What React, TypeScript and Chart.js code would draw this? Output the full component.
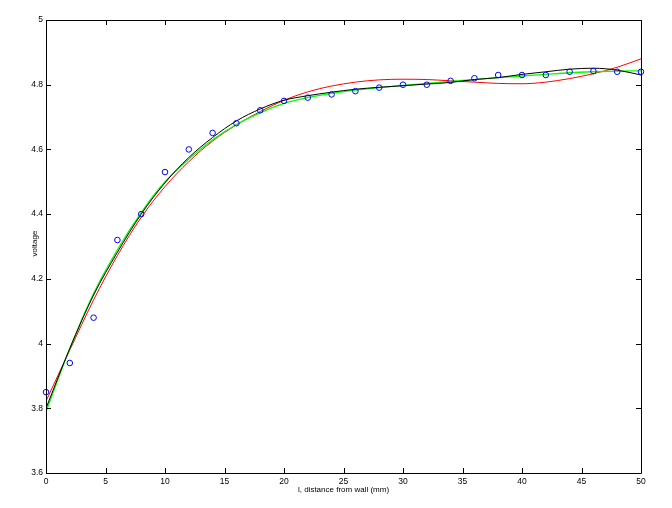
import React, { useEffect, useRef } from "react";
import { Chart, registerables } from "chart.js";

Chart.register(...registerables);

const distances = [0, 2, 4, 6, 8, 10, 12, 14, 16, 18, 20, 22, 24, 26, 28, 30, 32, 34, 36, 38, 40, 42, 44, 46, 48, 50];
const measured = [3.85, 3.94, 4.08, 4.32, 4.40, 4.53, 4.60, 4.651, 4.681, 4.721, 4.75, 4.76, 4.77, 4.78, 4.791, 4.80, 4.80, 4.812, 4.82, 4.83, 4.83, 4.83, 4.84, 4.842, 4.84, 4.84];
const fitBlack = [3.80, 3.985, 4.15, 4.282, 4.40, 4.497, 4.575, 4.637, 4.688, 4.725, 4.752, 4.766, 4.777, 4.786, 4.792, 4.797, 4.802, 4.807, 4.816, 4.822, 4.832, 4.840, 4.848, 4.851, 4.845, 4.83];
const fitGreen = [3.79, 3.985, 4.155, 4.29, 4.405, 4.50, 4.57, 4.63, 4.677, 4.713, 4.742, 4.76, 4.773, 4.783, 4.791, 4.798, 4.804, 4.81, 4.816, 4.822, 4.827, 4.832, 4.837, 4.84, 4.842, 4.843];
const fitRed = [3.822, 3.98, 4.135, 4.272, 4.39, 4.485, 4.562, 4.626, 4.676, 4.717, 4.752, 4.778, 4.796, 4.808, 4.815, 4.817, 4.816, 4.812, 4.808, 4.804, 4.803, 4.808, 4.819, 4.834, 4.854, 4.88];
const xTickValues = [0, 5, 10, 15, 20, 25, 30, 35, 40, 45, 50];
const yTickValues = [3.6, 3.8, 4, 4.2, 4.4, 4.6, 4.8, 5];
const xTitle = "l, distance from wall (mm)";
const yTitle = "voltage";

const FONT = "'Liberation Sans', Arial, Helvetica, sans-serif";

const pts = (ys: number[]) => distances.map((x, i) => ({ x, y: ys[i] }));

const framePlugin = {
  id: "matlabFrame",
  afterDraw(chart: any) {
    const { ctx, chartArea, scales } = chart;
    const { left, right, top, bottom } = chartArea;
    ctx.save();
    ctx.strokeStyle = "#000";
    ctx.lineWidth = 1;
    ctx.beginPath();
    ctx.rect(Math.round(left) + 0.5, Math.round(top) + 0.5, Math.round(right - left), Math.round(bottom - top));
    ctx.stroke();
    const tl = 5;
    ctx.beginPath();
    xTickValues.forEach((v) => {
      const px = Math.round(scales.x.getPixelForValue(v)) + 0.5;
      ctx.moveTo(px, bottom);
      ctx.lineTo(px, bottom - tl);
      ctx.moveTo(px, top);
      ctx.lineTo(px, top + tl);
    });
    yTickValues.forEach((v) => {
      const py = Math.round(scales.y.getPixelForValue(v)) + 0.5;
      ctx.moveTo(left, py);
      ctx.lineTo(left + tl, py);
      ctx.moveTo(right, py);
      ctx.lineTo(right - tl, py);
    });
    ctx.stroke();

    ctx.fillStyle = "#000";
    ctx.font = `8px ${FONT}`;
    ctx.textAlign = "center";
    ctx.textBaseline = "middle";
    ctx.fillText(xTitle, (left + right) / 2, 490);
    ctx.save();
    ctx.translate(left - 11, (top + bottom) / 2 - 3);
    ctx.rotate(-Math.PI / 2);
    ctx.fillText(yTitle, 0, 0);
    ctx.restore();
    ctx.restore();
  },
};

export default function App() {
  const canvasRef = useRef<HTMLCanvasElement | null>(null);

  useEffect(() => {
    document.body.style.margin = "0";
    const canvas = canvasRef.current;
    if (!canvas) return;
    const lineDs = (label: string, data: number[], color: string, width: number) => ({
      type: "line" as const,
      label,
      data: pts(data),
      borderColor: color,
      backgroundColor: color,
      borderWidth: width,
      pointRadius: 0,
      cubicInterpolationMode: "monotone" as const,
      fill: false,
    });
    const chart = new Chart(canvas, {
      type: "line",
      data: {
        datasets: [
          {
            type: "scatter" as any,
            label: "measured",
            data: pts(measured),
            showLine: false,
            pointStyle: "circle",
            pointRadius: 2.8,
            borderColor: "#0000ff",
            backgroundColor: "rgba(0,0,0,0)",
            pointBorderWidth: 1,
            clip: false,
            order: 0,
          } as any,
          { ...lineDs("fit red", fitRed, "#ff0000", 1), order: 3 },
          { ...lineDs("fit green", fitGreen, "#00ff00", 1.3), order: 2 },
          { ...lineDs("fit black", fitBlack, "#000000", 1), order: 1 },
        ],
      },
      options: {
        responsive: false,
        animation: false,
        devicePixelRatio: 1,
        layout: { padding: { top: 20, right: 31, left: 0, bottom: 0 } },
        plugins: { legend: { display: false }, tooltip: { enabled: false }, title: { display: false } },
        scales: {
          x: {
            type: "linear",
            min: 0,
            max: 50,
            grid: { display: false, drawTicks: false },
            border: { display: false },
            afterBuildTicks: (s: any) => {
              s.ticks = xTickValues.map((v) => ({ value: v }));
            },
            afterFit: (s: any) => {
              s.height = 35;
            },
            ticks: {
              padding: 4,
              maxRotation: 0,
              autoSkip: false,
              color: "#000",
              font: { family: FONT, size: 8.5 },
              callback: (v: any) => String(v),
            },
          },
          y: {
            type: "linear",
            min: 3.6,
            max: 5,
            grid: { display: false, drawTicks: false },
            border: { display: false },
            afterBuildTicks: (s: any) => {
              s.ticks = yTickValues.map((v) => ({ value: v }));
            },
            afterFit: (s: any) => {
              s.width = 46;
            },
            ticks: {
              padding: 3,
              autoSkip: false,
              color: "#000",
              font: { family: FONT, size: 8.5 },
              callback: (v: any) => String(Math.round(Number(v) * 10) / 10),
            },
          },
        },
      },
      plugins: [framePlugin],
    });
    return () => chart.destroy();
  }, []);

  return (
    <div style={{ width: 672, height: 508, background: "#fff" }}>
      <canvas ref={canvasRef} width={672} height={508} style={{ display: "block" }} />
    </div>
  );
}
